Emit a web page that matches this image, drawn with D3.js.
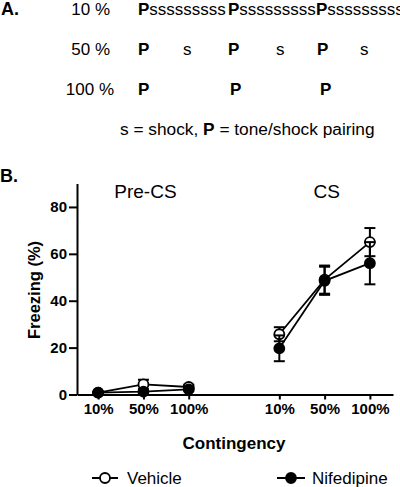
<!DOCTYPE html>
<html><head><meta charset="utf-8">
<script src="https://cdn.jsdelivr.net/npm/d3@7"></script>
<style>body{margin:0;background:#fff}svg{display:block}text{font-family:Arial,"Liberation Sans",sans-serif;fill:#000}</style>
</head><body><svg id="c" width="400" height="487"></svg>
<script>
const categories = ["10%","50%","100%"];
const phases = ["Pre-CS","CS"];
const vehicleMean = [0.8, 4.3, 3.2, 25.7, 49.0, 65.0];
const vehicleErr  = [0.4, 2.0, 1.0, 3.0, 6.0, 6.0];
const nifedipineMean = [0.8, 1.2, 2.2, 19.7, 48.5, 56.0];
const nifedipineErr  = [0.3, 0.5, 0.5, 5.5, 6.0, 9.0];
const xIndex = [0,1,2,4,5,6];
const yTicks = [0,20,40,60,80];
const rowLabels = ["10 %","50 %","100 %"];

const svg = d3.select("#c");
const x = d3.scaleLinear().domain([-0.467, 6.51]).range([77, 393]);
const y = d3.scaleLinear().domain([0, 90]).range([394.5, 183.5]);

// Panel A
svg.append("text").attr("x",1).attr("y",15).attr("font-size",18).attr("font-weight","bold").text("A.");
const rowY=[15,55,95];
svg.append("text").attr("x",110).attr("y",rowY[0]).attr("font-size",17).attr("text-anchor","end").text(rowLabels[0]);
svg.append("text").attr("x",110).attr("y",rowY[1]).attr("font-size",17).attr("text-anchor","end").text(rowLabels[1]);
svg.append("text").attr("x",114).attr("y",rowY[2]).attr("font-size",17).attr("text-anchor","end").text(rowLabels[2]);
[138,228,316].forEach(px=>{
  const t=svg.append("text").attr("x",px).attr("y",rowY[0]).attr("font-size",17);
  t.append("tspan").attr("font-weight","bold").text("P");
  t.append("tspan").text("sssssssss");
});
[[138,"P",1],[183,"s",0],[228,"P",1],[276,"s",0],[317,"P",1],[360,"s",0]].forEach(d=>{
  svg.append("text").attr("x",d[0]).attr("y",rowY[1]).attr("font-size",17).attr("font-weight",d[2]?"bold":"normal").text(d[1]);
});
[138,230,320].forEach(px=>{
  svg.append("text").attr("x",px).attr("y",rowY[2]).attr("font-size",17).attr("font-weight","bold").text("P");
});
const lg=svg.append("text").attr("x",120).attr("y",135).attr("font-size",17.3);
lg.append("tspan").text("s = shock, ");
lg.append("tspan").attr("font-weight","bold").text("P");
lg.append("tspan").text(" = tone/shock pairing");

// Panel B
svg.append("text").attr("x",0).attr("y",182).attr("font-size",18).attr("font-weight","bold").text("B.");

const ya = svg.append("g").attr("transform","translate(77,0)")
  .call(d3.axisLeft(y).tickValues(yTicks).tickSize(8).tickSizeOuter(0).tickPadding(2));
ya.select(".domain").attr("stroke-width",2);
ya.selectAll(".tick line").attr("stroke-width",2);
ya.selectAll("text").attr("font-size",15).attr("font-weight","bold").attr("font-family","Arial,'Liberation Sans',sans-serif");

const xa = svg.append("g").attr("transform","translate(0,394.5)")
  .call(d3.axisBottom(x).tickValues(xIndex).tickFormat((d,i)=>categories[i%3]).tickSize(5).tickSizeOuter(0).tickPadding(4));
xa.select(".domain").attr("stroke-width",2);
xa.selectAll(".tick line").attr("stroke-width",2);
xa.selectAll("text").attr("font-size",15).attr("font-weight","bold").attr("font-family","Arial,'Liberation Sans',sans-serif");

svg.append("text").attr("transform","translate(40,290) rotate(-90)").attr("text-anchor","middle")
  .attr("font-size",16.5).attr("font-weight","bold").text("Freezing (%)");
svg.append("text").attr("x",234).attr("y",449).attr("text-anchor","middle")
  .attr("font-size",17).attr("font-weight","bold").text("Contingency");
svg.append("text").attr("x",x(1)+2).attr("y",198).attr("text-anchor","middle").attr("font-size",19).text(phases[0]);
svg.append("text").attr("x",x(5)+2).attr("y",198).attr("text-anchor","middle").attr("font-size",19).text(phases[1]);

const series=[{m:vehicleMean,e:vehicleErr,fill:"#fff"},{m:nifedipineMean,e:nifedipineErr,fill:"#000"}];
const line=d3.line().x(d=>x(d.x)).y(d=>y(d.v));
series.forEach(s=>{
  const pts=s.m.map((v,i)=>({x:xIndex[i],v,e:s.e[i]}));
  [pts.slice(0,3),pts.slice(3)].forEach(seg=>{
    svg.append("path").attr("d",line(seg)).attr("fill","none").attr("stroke","#000").attr("stroke-width",1.8);
  });
  const eb=svg.append("g").attr("stroke","#000").attr("stroke-width",2);
  pts.forEach(p=>{
    eb.append("line").attr("x1",x(p.x)).attr("x2",x(p.x)).attr("y1",y(p.v-p.e)).attr("y2",y(p.v+p.e));
    [p.v-p.e,p.v+p.e].forEach(v=>eb.append("line").attr("x1",x(p.x)-5.5).attr("x2",x(p.x)+5.5).attr("y1",y(v)).attr("y2",y(v)));
  });
  svg.append("g").selectAll("circle").data(pts).join("circle")
    .attr("cx",d=>x(d.x)).attr("cy",d=>y(d.v)).attr("r",5)
    .attr("fill",s.fill).attr("stroke","#000").attr("stroke-width",1.8);
});

// Legend
const legend=[{label:"Vehicle",fill:"#fff",x1:92,x2:118,tx:127},{label:"Nifedipine",fill:"#000",x1:277,x2:305,tx:312}];
legend.forEach(l=>{
  svg.append("line").attr("x1",l.x1).attr("x2",l.x2).attr("y1",478).attr("y2",478).attr("stroke","#000").attr("stroke-width",2);
  svg.append("circle").attr("cx",(l.x1+l.x2)/2).attr("cy",478).attr("r",5).attr("fill",l.fill).attr("stroke","#000").attr("stroke-width",1.8);
  svg.append("text").attr("x",l.tx).attr("y",484).attr("font-size",17).text(l.label);
});
</script></body></html>
